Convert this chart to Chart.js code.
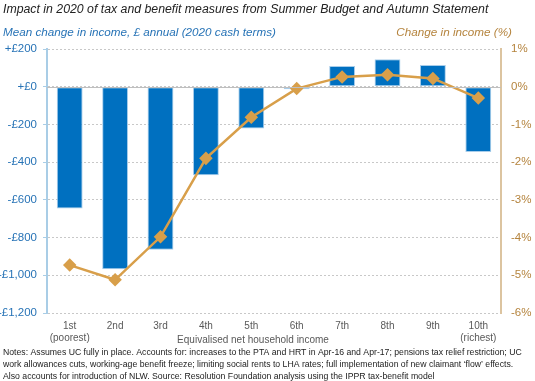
<!DOCTYPE html>
<html lang="en">
  <head>
    <meta charset="UTF-8" />
    <title>Impact in 2020 of tax and benefit measures</title>
    <script src="https://cdn.jsdelivr.net/npm/chart.js"></script>
    <style>
      body { margin: 0; background: #fff; }
      #wrap { width: 535px; height: 381px; }
    </style>
  </head>
  <body>
    <div id="wrap"><canvas id="chart" width="535" height="381"></canvas></div>

    <script>
      // data
      const deciles = [["1st", "(poorest)"], "2nd", "3rd", "4th", "5th", "6th", "7th", "8th", "9th", ["10th", "(richest)"]];
      const cashChange = [-646, -968, -865, -470, -222, -13, 110, 145, 115, -346];
      const pctChange = [-4.73, -5.12, -3.98, -1.9, -0.81, -0.05, 0.26, 0.32, 0.22, -0.3];
      const notes = [
        "Notes: Assumes UC fully in place. Accounts for: increases to the PTA and HRT in Apr-16 and Apr-17; pensions tax relief restriction; UC",
        "work allowances cuts, working-age benefit freeze; limiting social rents to LHA rates; full implementation of new claimant \u2018flow\u2019 effects.",
        "Also accounts for introduction of NLW. Source: Resolution Foundation analysis using the IPPR tax-benefit model",
      ];

      const blue = "#0070c0";
      const blueText = "#2773b6";
      const gold = "#d89f4a";
      const goldText = "#b5843e";
      const font = "'Liberation Sans', Arial, sans-serif";

      const textPlugin = {
        id: "texts",
        afterDraw(chart) {
          const ctx = chart.ctx;
          const area = chart.chartArea;
          const y = chart.scales.y;
          ctx.save();
          // solid zero line
          ctx.strokeStyle = "#bfbfbf";
          ctx.lineWidth = 1;
          const zy = Math.round(y.getPixelForValue(0)) + 0.5;
          ctx.beginPath();
          ctx.moveTo(area.left, zy);
          ctx.lineTo(area.right, zy);
          ctx.stroke();

          ctx.textBaseline = "middle";
          ctx.fillStyle = "#222";
          ctx.font = "italic 12.3px " + font;
          ctx.fillText("Impact in 2020 of tax and benefit measures from Summer Budget and Autumn Statement", 3, 10);

          ctx.font = "italic 11.7px " + font;
          ctx.fillStyle = blueText;
          ctx.fillText("Mean change in income, \u00a3 annual (2020 cash terms)", 3, 33);
          ctx.fillStyle = goldText;
          ctx.textAlign = "right";
          ctx.fillText("Change in income (%)", 512, 33);

          ctx.textAlign = "center";
          ctx.fillStyle = "#595959";
          ctx.font = "10px " + font;
          ctx.fillText("Equivalised net household income", 253, 340);

          ctx.textAlign = "left";
          ctx.fillStyle = "#222";
          ctx.font = "8.7px " + font;
          notes.forEach((t, i) => ctx.fillText(t, 3, 353 + i * 12));
          ctx.restore();
        },
      };

      new Chart(document.getElementById("chart"), {
        data: {
          labels: deciles,
          datasets: [
            {
              type: "line",
              label: "Change in income (%)",
              data: pctChange,
              yAxisID: "y1",
              borderColor: gold,
              backgroundColor: gold,
              borderWidth: 2.5,
              pointStyle: "rectRot",
              pointRadius: 5,
              tension: 0,
              order: 0,
            },
            {
              type: "bar",
              label: "Mean change in income",
              data: cashChange,
              yAxisID: "y",
              backgroundColor: blue,
              borderColor: "#a8cdea",
              borderWidth: 1,
              borderSkipped: false,
              barPercentage: 0.57,
              categoryPercentage: 1,
              order: 1,
            },
          ],
        },
        options: {
          responsive: false,
          animation: false,
          layout: { padding: { top: 49, left: 0, right: 0, bottom: 0 } },
          plugins: { legend: { display: false }, tooltip: { enabled: false } },
          scales: {
            x: {
              grid: { display: false, drawTicks: false },
              border: { display: false },
              ticks: { color: "#595959", font: { family: font, size: 10 }, padding: 7, maxRotation: 0 },
              afterFit: (s) => { s.height = 68; },
            },
            y: {
              position: "left",
              min: -1200,
              max: 200,
              grid: { color: "#c8c8c8", tickLength: 4, tickColor: "#a9cde6" },
              border: { color: "#a9cde6", width: 2, dash: [2, 2] },
              ticks: {
                stepSize: 200,
                color: blueText,
                font: { family: font, size: 11.5 },
                padding: 6,
                callback: (v) => (v >= 0 ? "+\u00a3" : "-\u00a3") + Math.abs(v).toLocaleString("en-GB"),
              },
              afterFit: (s) => { s.width = 47; },
            },
            y1: {
              position: "right",
              min: -6,
              max: 1,
              grid: { display: false, tickLength: 4, tickColor: "#d9c09a" },
              border: { color: "#dcc4a0", width: 2 },
              ticks: {
                stepSize: 1,
                color: goldText,
                font: { family: font, size: 11.5 },
                padding: 6,
                callback: (v) => v + "%",
              },
              afterFit: (s) => { s.width = 34; },
            },
          },
        },
        plugins: [textPlugin],
      });
    </script>
  </body>
</html>
